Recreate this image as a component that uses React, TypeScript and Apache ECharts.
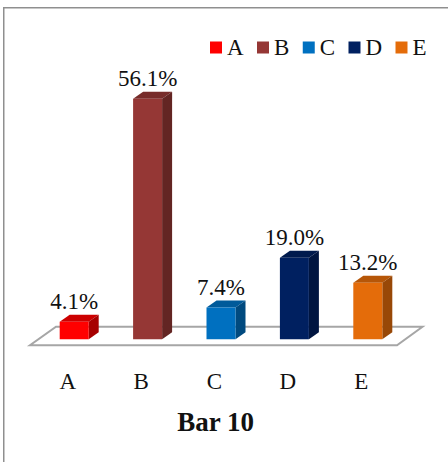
import React, { useEffect, useRef } from "react";
import * as echarts from "echarts";

const categories = ["A", "B", "C", "D", "E"];
const shares = [4.1, 56.1, 7.4, 19.0, 13.2];
const faceColors = ["#ff0000", "#953735", "#0070c0", "#002060", "#e46c0a"];
const topColors = ["#cc0000", "#772c2a", "#005a9a", "#001a4d", "#b65608"];
const sideColors = ["#a60000", "#632523", "#004a7f", "#001540", "#984807"];
const chartTitle = "Bar 10";

const FONT = "Liberation Serif";
const DEPTH_X = 10;
const DEPTH_Y = 7;
const BAR_WIDTH = 29;
const BAR_SHIFT = 6.5;

export default function App() {
  const ref = useRef<HTMLDivElement>(null);

  useEffect(() => {
    const chart = echarts.init(ref.current!, undefined, { renderer: "svg" });

    // Extruded bar: front face, top face, side face and its value above.
    const renderBar = (index: number) => (_params: any, api: any) => {
      const slot = api.coord([api.value(0), api.value(1)]);
      const base = api.coord([api.value(0), 0]);
      const x0 = slot[0] + BAR_SHIFT - BAR_WIDTH / 2;
      const x1 = x0 + BAR_WIDTH;
      const yTop = slot[1];
      const yBase = base[1];
      return {
        type: "group",
        children: [
          {
            type: "polygon",
            shape: {
              points: [
                [x0, yTop],
                [x1, yTop],
                [x1 + DEPTH_X, yTop - DEPTH_Y],
                [x0 + DEPTH_X, yTop - DEPTH_Y],
              ],
            },
            style: { fill: topColors[index] },
          },
          {
            type: "polygon",
            shape: {
              points: [
                [x1, yTop],
                [x1 + DEPTH_X, yTop - DEPTH_Y],
                [x1 + DEPTH_X, yBase - DEPTH_Y],
                [x1, yBase],
              ],
            },
            style: { fill: sideColors[index] },
          },
          {
            type: "rect",
            shape: { x: x0, y: yTop, width: BAR_WIDTH, height: yBase - yTop },
            style: { fill: faceColors[index] },
          },
          {
            type: "text",
            style: {
              x: (x0 + x1) / 2,
              y: yTop - DEPTH_Y - 13.5,
              text: `${shares[index].toFixed(1)}%`,
              fill: "#111111",
              fontFamily: FONT,
              fontSize: 23,
              align: "center",
              verticalAlign: "middle",
            },
          },
        ],
      };
    };

    // Floor slab under the bars, sized from the plot area.
    const renderFloor = (params: any, api: any) => {
      const sys = params.coordSys;
      const front = api.coord([0, 0])[1] + 6;
      const back = front - 18.5;
      const left = sys.x - 1;
      const right = sys.x + sys.width - 1;
      return {
        type: "polygon",
        shape: {
          points: [
            [left, front],
            [right, front],
            [right + 25.5, back],
            [left + 26, back],
          ],
        },
        style: { fill: "#ffffff", stroke: "#a6a6a6", lineWidth: 2 },
      };
    };

    chart.setOption({
      animation: false,
      backgroundColor: "#ffffff",
      title: {
        text: chartTitle,
        left: 215.5,
        top: 408,
        textAlign: "center",
        padding: 0,
        textStyle: { fontFamily: FONT, fontSize: 27, fontWeight: "bold", color: "#111111" },
      },
      legend: {
        left: 210,
        top: 36,
        padding: 0,
        icon: "rect",
        itemWidth: 12,
        itemHeight: 12,
        itemGap: 13.4,
        selectedMode: false,
        data: categories,
        textStyle: { fontFamily: FONT, fontSize: 23, color: "#111111" },
      },
      grid: { left: 31, width: 367, top: 81.9, height: 257.4 },
      xAxis: {
        type: "category",
        data: categories,
        axisLine: { show: false },
        axisTick: { show: false },
        splitLine: { show: false },
        axisLabel: { margin: 31, fontFamily: FONT, fontSize: 23, color: "#111111" },
      },
      yAxis: { type: "value", min: 0, max: 60, show: false },
      graphic: [
        { type: "rect", shape: { x: 3, y: 7, width: 445, height: 1.5 }, style: { fill: "#8f8f8f" } },
        { type: "rect", shape: { x: 3, y: 7, width: 1.5, height: 455 }, style: { fill: "#8f8f8f" } },
      ],
      series: [
        {
          type: "custom",
          name: "floor",
          z: 1,
          silent: true,
          data: [[0, 0]],
          renderItem: renderFloor,
        },
        ...categories.map((name, i) => ({
          type: "custom",
          name,
          z: 2,
          itemStyle: { color: faceColors[i] },
          data: [[i, shares[i]]],
          encode: { x: 0, y: 1 },
          renderItem: renderBar(i),
        })),
      ],
    });

    return () => chart.dispose();
  }, []);

  return (
    <div
      ref={ref}
      style={{ position: "absolute", left: 0, top: 0, width: 448, height: 462 }}
    />
  );
}
